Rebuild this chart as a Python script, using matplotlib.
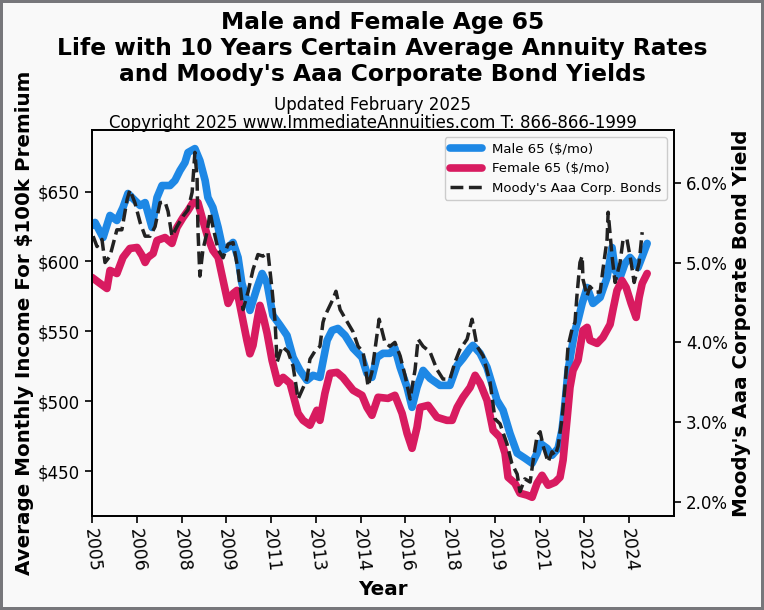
import matplotlib
matplotlib.use("Agg")
import matplotlib.pyplot as plt
from matplotlib.ticker import FuncFormatter, FixedLocator
import numpy as np

# ---------------- data ----------------
male_year = [2005.00, 2005.11, 2005.40, 2005.65, 2005.90, 2006.12, 2006.30, 2006.48, 2006.74, 2006.92,
             2007.17, 2007.35, 2007.53, 2007.82, 2008.00, 2008.18, 2008.36, 2008.47, 2008.72, 2008.90,
             2009.09, 2009.19, 2009.37, 2009.56, 2009.74, 2009.92, 2010.10, 2010.28, 2010.42, 2010.71,
             2010.97, 2011.15, 2011.33, 2011.54, 2011.80, 2012.05, 2012.27, 2012.52, 2012.77, 2012.99,
             2013.24, 2013.50, 2013.68, 2013.89, 2014.15, 2014.44, 2014.76, 2014.94, 2015.12, 2015.30,
             2015.52, 2015.77, 2015.95, 2016.14, 2016.39, 2016.57, 2016.75, 2016.97, 2017.22, 2017.58,
             2017.94, 2018.20, 2018.41, 2018.67, 2018.77, 2019.03, 2019.28, 2019.64, 2019.86, 2020.11,
             2020.37, 2020.65, 2020.91, 2021.09, 2021.20, 2021.45, 2021.63, 2021.85, 2021.99, 2022.10,
             2022.21, 2022.35, 2022.46, 2022.57, 2022.72, 2022.90, 2023.11, 2023.37, 2023.62, 2023.80,
             2023.91, 2024.09, 2024.27, 2024.45, 2024.63, 2024.74, 2024.88, 2025.07]
male_65 = [625.7, 627.9, 617.1, 632.9, 629.3, 638.6, 648.6, 645.0, 640.0, 642.1,
           624.3, 645.7, 654.3, 654.3, 657.9, 665.0, 670.7, 677.9, 680.7, 672.1,
           657.9, 645.7, 638.6, 624.3, 607.9, 610.0, 613.6, 602.9, 584.3, 565.0,
           581.4, 591.4, 584.3, 561.4, 554.3, 547.1, 531.4, 522.1, 515.0, 518.6,
           517.1, 543.6, 550.7, 552.1, 547.1, 537.9, 531.4, 520.0, 517.1, 531.4,
           534.3, 534.3, 537.9, 524.3, 510.0, 495.7, 510.0, 522.1, 516.4, 511.4,
           511.4, 525.7, 530.7, 537.9, 540.0, 534.3, 524.3, 500.7, 493.6, 477.1,
           462.9, 459.3, 455.7, 462.9, 470.0, 466.4, 461.4, 466.4, 479.3, 498.6,
           522.1, 538.6, 550.7, 557.9, 570.0, 581.4, 570.0, 574.3, 588.6, 610.0,
           593.6, 588.6, 598.6, 602.9, 598.6, 595.7, 602.9, 612.9]

female_year = [2005.00, 2005.29, 2005.54, 2005.65, 2005.90, 2006.12, 2006.37, 2006.63, 2006.81, 2006.92,
               2007.02, 2007.21, 2007.35, 2007.64, 2007.89, 2008.07, 2008.29, 2008.47, 2008.65, 2008.83,
               2009.01, 2009.19, 2009.37, 2009.56, 2009.74, 2009.92, 2010.10, 2010.24, 2010.42, 2010.60,
               2010.71, 2010.82, 2010.97, 2011.07, 2011.18, 2011.33, 2011.51, 2011.72, 2011.91, 2012.16,
               2012.45, 2012.63, 2012.88, 2013.13, 2013.24, 2013.42, 2013.60, 2013.86, 2014.07, 2014.44,
               2014.76, 2014.94, 2015.12, 2015.34, 2015.70, 2015.95, 2016.21, 2016.39, 2016.57, 2016.75,
               2016.86, 2017.15, 2017.47, 2017.83, 2018.02, 2018.20, 2018.41, 2018.67, 2018.85, 2019.03,
               2019.28, 2019.50, 2019.75, 2019.93, 2020.04, 2020.29, 2020.47, 2020.73, 2020.91, 2021.09,
               2021.27, 2021.49, 2021.74, 2021.92, 2022.03, 2022.17, 2022.28, 2022.39, 2022.57, 2022.75,
               2022.90, 2023.00, 2023.26, 2023.47, 2023.73, 2023.84, 2023.98, 2024.16, 2024.31, 2024.49,
               2024.67, 2024.78, 2024.89, 2025.07]
female_65 = [588.6, 584.3, 580.7, 593.6, 591.4, 602.9, 609.3, 610.0, 604.3, 599.3,
             602.9, 605.7, 615.0, 617.1, 612.9, 624.3, 631.4, 636.4, 642.1, 642.1,
             629.3, 617.1, 607.9, 602.9, 586.4, 570.0, 577.1, 579.3, 561.4, 543.6,
             534.0, 540.0, 557.9, 568.6, 561.4, 548.6, 529.3, 512.9, 517.1, 512.9,
             491.4, 486.4, 482.9, 493.6, 486.4, 505.7, 520.0, 520.7, 517.1, 507.9,
             504.3, 495.7, 490.0, 502.9, 502.1, 504.3, 491.4, 477.1, 466.4, 481.4,
             495.7, 497.1, 488.6, 486.4, 486.4, 495.7, 502.9, 510.0, 518.6, 512.9,
             500.7, 479.3, 474.3, 462.9, 445.7, 441.4, 434.3, 432.9, 431.4, 441.4,
             447.1, 440.0, 442.1, 445.7, 457.9, 486.4, 510.0, 522.1, 529.3, 550.7,
             552.9, 543.6, 541.4, 545.7, 555.0, 566.0, 579.3, 586.4, 581.4, 570.0,
             560.0, 574.3, 584.3, 591.4]

moody_year = [2005.04, 2005.18, 2005.36, 2005.47, 2005.65, 2005.90, 2006.08, 2006.27, 2006.37, 2006.55,
              2006.74, 2006.92, 2007.10, 2007.28, 2007.46, 2007.64, 2007.75, 2007.89, 2008.07, 2008.29,
              2008.47, 2008.62, 2008.72, 2008.80, 2008.83, 2008.90, 2009.01, 2009.16, 2009.27, 2009.37,
              2009.56, 2009.74, 2009.92, 2010.10, 2010.28, 2010.46, 2010.64, 2010.82, 2011.00, 2011.18,
              2011.36, 2011.51, 2011.62, 2011.69, 2011.87, 2012.09, 2012.27, 2012.45, 2012.77, 2012.88,
              2013.06, 2013.24, 2013.35, 2013.42, 2013.71, 2013.82, 2013.97, 2014.22, 2014.44, 2014.62,
              2014.80, 2014.98, 2015.12, 2015.23, 2015.38, 2015.59, 2015.77, 2015.95, 2016.14, 2016.32,
              2016.50, 2016.68, 2016.79, 2016.97, 2017.22, 2017.47, 2017.69, 2017.94, 2018.12, 2018.30,
              2018.56, 2018.74, 2018.92, 2019.14, 2019.39, 2019.57, 2019.75, 2020.00, 2020.18, 2020.37,
              2020.47, 2020.65, 2020.84, 2020.94, 2021.09, 2021.20, 2021.31, 2021.49, 2021.63, 2021.74,
              2021.85, 2021.99, 2022.10, 2022.21, 2022.35, 2022.46, 2022.53, 2022.64, 2022.72, 2022.75,
              2022.90, 2023.00, 2023.18, 2023.37, 2023.47, 2023.62, 2023.66, 2023.80, 2023.91, 2024.09,
              2024.20, 2024.34, 2024.49, 2024.60, 2024.78, 2024.89]
moody_aaa = [5.33, 5.20, 5.29, 5.00, 5.08, 5.41, 5.41, 5.79, 5.91, 5.75,
             5.50, 5.33, 5.33, 5.45, 5.75, 5.76, 5.64, 5.33, 5.45, 5.58,
             5.66, 5.88, 6.38, 6.04, 5.41, 4.83, 5.16, 5.38, 5.63, 5.45,
             5.16, 5.06, 5.23, 5.25, 4.91, 4.41, 4.63, 4.91, 5.10, 5.08,
             5.13, 4.66, 4.25, 3.75, 3.95, 3.88, 3.70, 3.29, 3.54, 3.79,
             3.89, 3.95, 4.25, 4.33, 4.54, 4.64, 4.41, 4.26, 4.13, 3.95,
             3.88, 3.45, 3.63, 3.91, 4.29, 4.00, 3.95, 4.00, 3.83, 3.58,
             3.29, 3.66, 4.04, 3.95, 3.88, 3.66, 3.54, 3.54, 3.75, 3.91,
             4.04, 4.29, 3.95, 3.83, 3.50, 3.04, 2.98, 2.73, 2.48, 2.35,
             2.13, 2.29, 2.25, 2.50, 2.83, 2.88, 2.70, 2.50, 2.63, 2.58,
             2.70, 3.04, 3.45, 3.95, 4.16, 4.25, 4.58, 5.00, 5.08, 4.79,
             4.58, 4.70, 4.63, 4.63, 4.91, 5.29, 5.63, 5.08, 4.75, 5.00,
             5.29, 5.29, 5.00, 4.75, 5.00, 5.38]

tick_labels = ["2005", "2006", "2008", "2009", "2011", "2013", "2014",
               "2016", "2018", "2019", "2021", "2022", "2024"]
left_ticks = [450, 500, 550, 600, 650]
right_ticks = [2.0, 3.0, 4.0, 5.0, 6.0]

# ---------------- figure ----------------
BG = "#f9f9f9"
fig = plt.figure(figsize=(7.64, 6.10), dpi=100, facecolor=BG)
fig.patch.set_edgecolor("#77777b")
fig.patch.set_linewidth(3)

ax = fig.add_axes([92 / 764, 94 / 610, 582 / 764, 386 / 610])
ax.set_facecolor(BG)
ax2 = ax.twinx()

l1, = ax.plot(male_year, male_65, color="#1e88e5", lw=5.5, solid_capstyle="round",
              solid_joinstyle="round", label="Male 65 ($/mo)")
l2, = ax.plot(female_year, female_65, color="#d81b60", lw=5.5, solid_capstyle="round",
              solid_joinstyle="round", label="Female 65 ($/mo)")
l3, = ax2.plot(moody_year, moody_aaa, color="#222222", lw=2.5, ls="--",
               label="Moody's Aaa Corp. Bonds")

ax.set_xlim(2005.0, 2026.04)
ax.set_ylim(418, 694)
ax2.set_ylim(1.825, 6.66)

tick_pos = [2005.0 + 1.618 * i for i in range(len(tick_labels))]
ax.set_xticks(tick_pos)
ax.set_xticklabels(tick_labels, rotation=-84, ha="center", va="top", fontsize=12.3)

ax.yaxis.set_major_locator(FixedLocator(left_ticks))
ax.yaxis.set_major_formatter(FuncFormatter(lambda v, p: f"${v:.0f}"))
ax2.yaxis.set_major_locator(FixedLocator(right_ticks))
ax2.yaxis.set_major_formatter(FuncFormatter(lambda v, p: f"{v:.1f}%"))
ax.tick_params(axis="y", labelsize=12, width=1.2, length=5)
ax.tick_params(axis="x", width=1.2, length=5)
ax2.tick_params(axis="y", labelsize=12, width=1.2, length=5)

for a in (ax, ax2):
    for s in a.spines.values():
        s.set_linewidth(1.3)

ax.set_xlabel("Year", fontsize=14.3, fontweight="bold", labelpad=5)
ax.set_ylabel("Average Monthly Income For $100k Premium", fontsize=14.3, fontweight="bold", labelpad=3)
ax2.set_ylabel("Moody's Aaa Corporate Bond Yield", fontsize=14.3, fontweight="bold", labelpad=3)

leg = ax2.legend(handles=[l1, l2, l3], loc="upper right", fontsize=9.5,
                 handlelength=2.4, framealpha=1, facecolor=BG, edgecolor="#cccccc",
                 borderaxespad=0.55)

fig.text(382.5 / 764, 1 - 48.5 / 610,
         "Male and Female Age 65\nLife with 10 Years Certain Average Annuity Rates\n"
         "and Moody's Aaa Corporate Bond Yields",
         ha="center", va="center", fontsize=16.8, fontweight="bold", linespacing=1.15)
fig.text(373 / 764, 1 - 105 / 610, "Updated February 2025", ha="center", va="center", fontsize=12)
fig.text(373 / 764, 1 - 123 / 610, "Copyright 2025 www.ImmediateAnnuities.com T: 866-866-1999",
         ha="center", va="center", fontsize=12)

fig.savefig("out.png", dpi=100, facecolor=BG, edgecolor=fig.get_edgecolor())
